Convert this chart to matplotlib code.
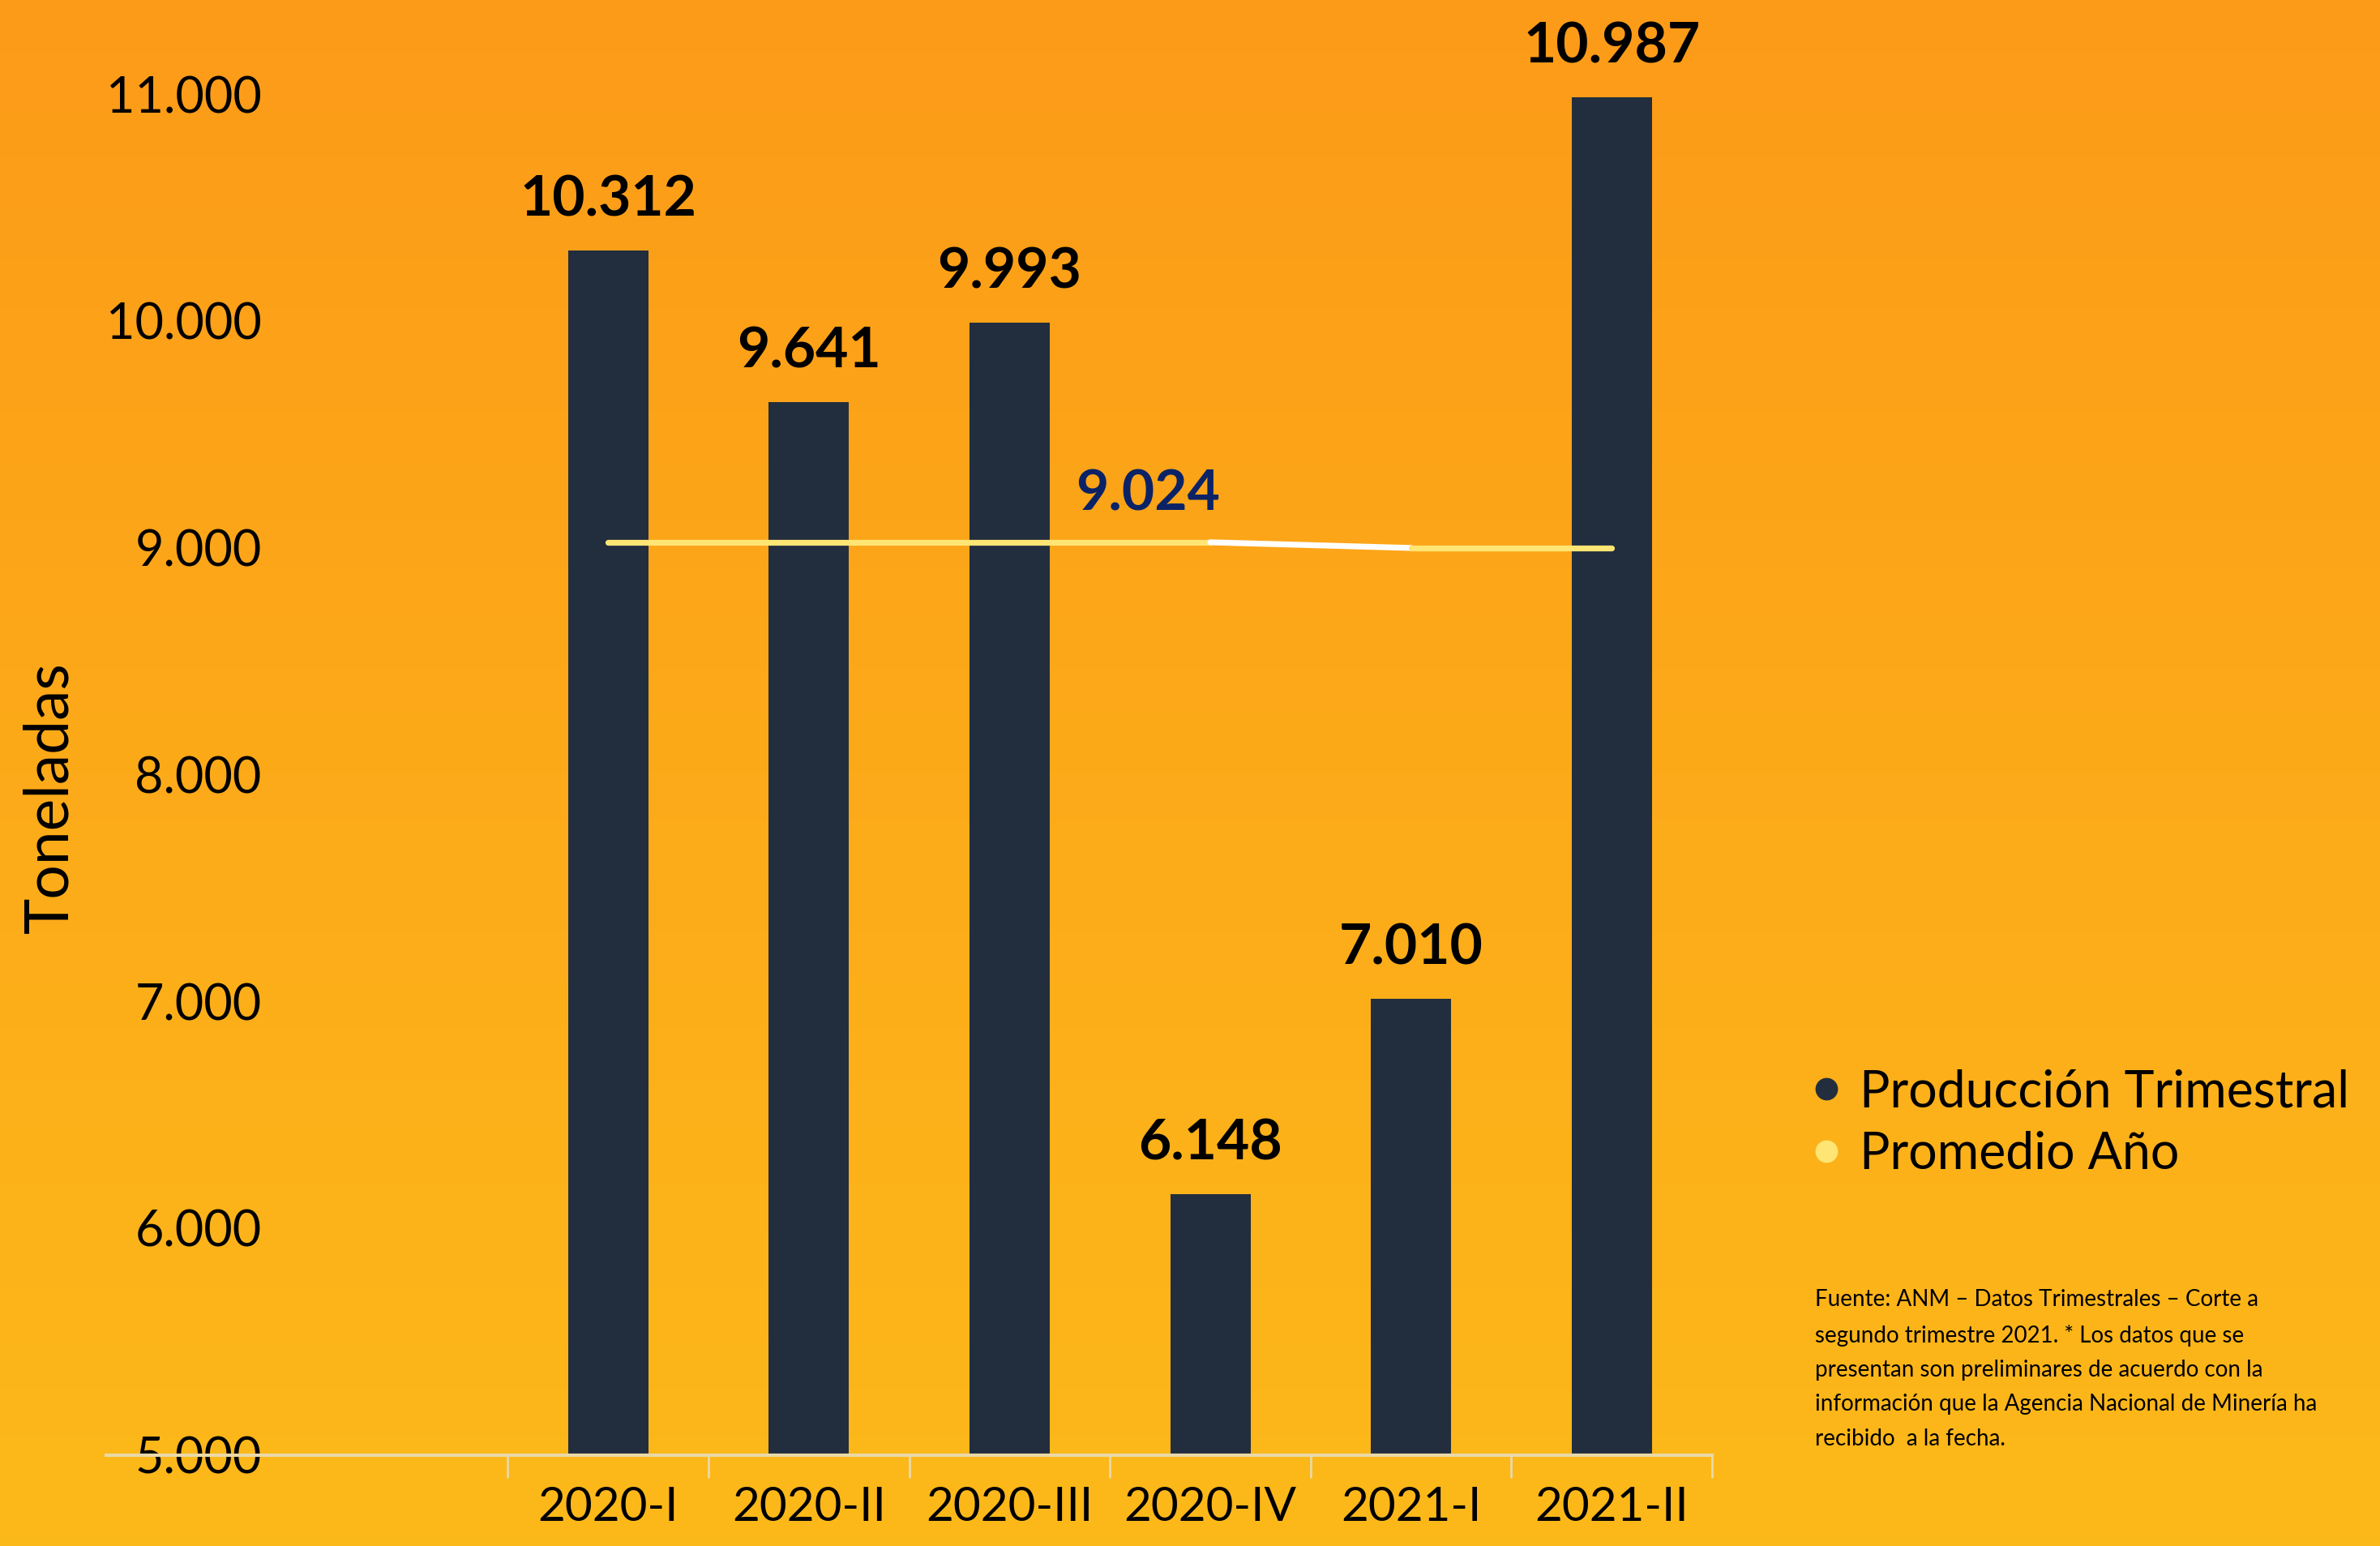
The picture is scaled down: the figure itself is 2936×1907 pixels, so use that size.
import numpy as np
import matplotlib.pyplot as plt
from matplotlib.lines import Line2D
from matplotlib.colors import LinearSegmentedColormap

categories = ['2020-I', '2020-II', '2020-III', '2020-IV', '2021-I', '2021-II']
produccion = [10312, 9641, 9993, 6148, 7010, 10987]
promedio = [9024, 9024, 9024, 9024, 8999, 8999]
bar_labels = ['10.312', '9.641', '9.993', '6.148', '7.010', '10.987']
yticks = [5000, 6000, 7000, 8000, 9000, 10000, 11000]
ytick_labels = ['5.000', '6.000', '7.000', '8.000', '9.000', '10.000', '11.000']
promedio_label = '9.024'
fuente = ('Fuente: ANM – Datos Trimestrales – Corte a\n'
          'segundo trimestre 2021. * Los datos que se\n'
          'presentan son preliminares de acuerdo con la\n'
          'información que la Agencia Nacional de Minería ha\n'
          'recibido  a la fecha.')

bar_color = '#222e3e'
line_color = '#ffe574'
fam = ['Lato', 'DejaVu Sans']

fig = plt.figure(figsize=(14.68, 9.535), dpi=200)

# vertical orange gradient background
bg = fig.add_axes([0, 0, 1, 1], zorder=-10)
grad = np.linspace(0, 1, 256).reshape(-1, 1)
cmap = LinearSegmentedColormap.from_list('bg', ['#fc9b18', '#fcb91a'])
bg.imshow(grad, aspect='auto', cmap=cmap, extent=[0, 1, 0, 1], origin='upper')
bg.axis('off')

ax = fig.add_axes([70 / 1568, 1 - 958 / 1018, (1128 - 70) / 1568, (958 - 62) / 1018])
ax.set_facecolor('none')

x = np.arange(len(categories))
ax.bar(x, produccion, width=0.4, color=bar_color, zorder=2)

# promedio line: 2020 segment, transition, 2021 segment
ax.plot(x[:4], promedio[:4], color=line_color, lw=2.6, solid_capstyle='round', zorder=3)
ax.plot(x[3:5], promedio[3:5], color='white', lw=2.6, solid_capstyle='round', zorder=3)
ax.plot(x[4:], promedio[4:], color=line_color, lw=2.6, solid_capstyle='round', zorder=3)

for xi, v, lab in zip(x, produccion, bar_labels):
    ax.annotate(lab, (xi, v), xytext=(0, 11), textcoords='offset points',
                ha='center', va='bottom', fontsize=25, fontweight='bold',
                family=fam, color='black', annotation_clip=False)

ax.annotate(promedio_label, (2.69, promedio[0]), xytext=(0, 10), textcoords='offset points',
            ha='center', va='bottom', fontsize=25, fontweight='bold',
            family=fam, color='#0b2366')

ax.set_xlim(-2.5, 5.5)
ax.set_ylim(5000, 11000)
ax.set_yticks(yticks)
ax.set_yticklabels(ytick_labels, fontsize=22, family=fam)
ax.tick_params(axis='y', length=0, pad=-69)
for t in ax.get_yticklabels():
    t.set_horizontalalignment('right')

ax.set_xticks(x)
ax.set_xticklabels(categories, fontsize=21, family=fam)
ax.set_xticks(np.arange(-0.5, 6, 1), minor=True)
ax.tick_params(axis='x', which='major', length=0, pad=14)
ax.tick_params(axis='x', which='minor', length=10, width=1, color='#ead9a8')

for s in ['top', 'right', 'left']:
    ax.spines[s].set_visible(False)
ax.spines['bottom'].set_color('#ead9a8')
ax.spines['bottom'].set_linewidth(1.5)

fig.text(33 / 1568, 1 - 525 / 1018, 'Toneladas', rotation=90, ha='center', va='center',
         fontsize=27, family=fam)

handles = [
    Line2D([], [], marker='o', ls='', color=bar_color, markersize=9),
    Line2D([], [], marker='o', ls='', color=line_color, markersize=9),
]
fig.legend(handles, ['Producción Trimestral', 'Promedio Año'], loc='upper left',
           bbox_to_anchor=(1170 / 1568, 1 - 687 / 1018), frameon=False,
           prop={'family': fam, 'size': 22.5},
           handletextpad=0.15, labelspacing=0.3, handlelength=1.0, borderpad=0)

fig.text(1196 / 1568, 1 - 849 / 1018, fuente, ha='left', va='top', fontsize=10,
         family=fam, linespacing=1.78)

fig.savefig('out.png', dpi=200)
